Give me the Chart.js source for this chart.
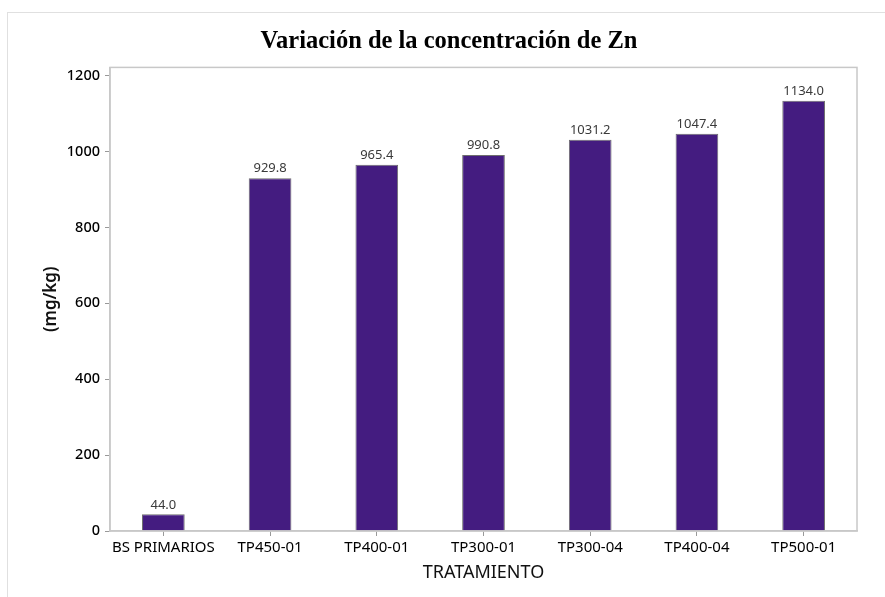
<!DOCTYPE html>
<html>
<head>
<meta charset="utf-8">
<script src="https://cdn.jsdelivr.net/npm/chart.js@4"></script>
<style>
  html, body { margin: 0; padding: 0; background: #fff; }
  #wrap { position: relative; width: 885px; height: 597px; overflow: hidden; }
  #marco { position: absolute; left: 7px; top: 12px; width: 900px; height: 600px; border-left: 1px solid #e0e0e0; border-top: 1px solid #e0e0e0; }
  #grafico { position: absolute; left: 0; top: 0; }
</style>
</head>
<body>
<div id="wrap">
  <div id="marco"></div>
  <canvas id="grafico" width="885" height="597"></canvas>
</div>
<script>
  const tratamientos = ["BS PRIMARIOS", "TP450-01", "TP400-01", "TP300-01", "TP300-04", "TP400-04", "TP500-01"];
  const concentracion = [44.0, 929.8, 965.4, 990.8, 1031.2, 1047.4, 1134.0];
  const ticksY = [0, 200, 400, 600, 800, 1000, 1200];

  const sans = "'Noto Sans', 'Open Sans', sans-serif";

  // etiquetas encima de cada barra + marco del area
  const etiquetas = {
    id: 'etiquetas',
    afterDatasetsDraw(chart) {
      const ctx = chart.ctx;
      const meta = chart.getDatasetMeta(0);
      ctx.save();
      ctx.font = "13px " + sans;
      ctx.fillStyle = '#3a3a3a';
      ctx.textAlign = 'center';
      ctx.textBaseline = 'bottom';
      meta.data.forEach((bar, i) => {
        ctx.fillText(concentracion[i].toFixed(1), bar.x, bar.y - 3);
      });
      const a = chart.chartArea;
      ctx.strokeStyle = '#c8c8c8';
      ctx.lineWidth = 1.5;
      ctx.strokeRect(a.left, a.top, a.right - a.left, a.bottom - a.top);
      ctx.restore();
    }
  };

  new Chart(document.getElementById('grafico'), {
    type: 'bar',
    data: {
      labels: tratamientos,
      datasets: [{
        data: concentracion,
        backgroundColor: '#441c80',
        borderColor: '#6e6e6e',
        borderWidth: 1,
        barPercentage: 0.4,
        categoryPercentage: 1
      }]
    },
    options: {
      responsive: false,
      animation: false,
      layout: { padding: { top: 0, left: 41, right: 28, bottom: 0 } },
      plugins: {
        legend: { display: false },
        tooltip: { enabled: false },
        title: {
          display: true,
          text: 'Variación de la concentración de Zn',
          color: '#000',
          font: { family: "'Liberation Serif', 'Times New Roman', serif", size: 24.5, weight: 'bold' },
          padding: { top: 27, bottom: 11 }
        }
      },
      scales: {
        x: {
          grid: { display: true, drawOnChartArea: false, offset: false, tickLength: 5, color: '#999' },
          border: { color: '#c8c8c8', width: 1.5 },
          ticks: { color: '#000', font: { family: sans, size: 15 }, padding: 3, maxRotation: 0, autoSkip: false },
          title: { display: true, text: 'TRATAMIENTO', color: '#111', font: { family: sans, size: 18 }, padding: { top: 0, bottom: 13 } },
          afterFit(scale) { scale.height = 597 - 531; }
        },
        y: {
          min: 0,
          max: 1222,
          grid: { display: true, drawOnChartArea: false, tickLength: 5, color: '#999' },
          border: { color: '#c8c8c8', width: 1.5 },
          ticks: { color: '#000', font: { family: sans, size: 14.5, weight: '500' }, padding: 5, callback: v => String(v) },
          afterBuildTicks(scale) {
            scale.ticks = ticksY.map(v => ({ value: v }));
          },
          title: { display: true, text: '(mg/kg)', color: '#111', font: { family: sans, size: 17, weight: '600' }, padding: { top: 0, bottom: 0 } },
          afterFit(scale) { scale.width = 110 - 41; }
        }
      }
    },
    plugins: [etiquetas]
  });
</script>
</body>
</html>
